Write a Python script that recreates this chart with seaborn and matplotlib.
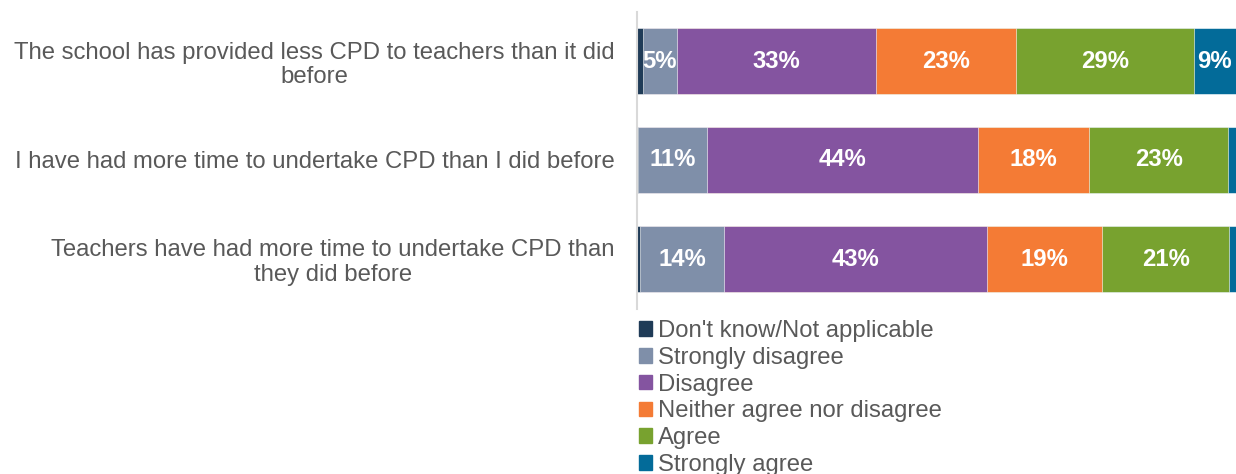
import matplotlib.pyplot as plt
import seaborn as sns
import numpy as np
import pandas as pd

statements = [
    "The school has provided less CPD to teachers than it did\nbefore",
    "I have had more time to undertake CPD than I did before",
    "Teachers have had more time to undertake CPD than\nthey did before",
]
responses = ["Don't know/Not applicable", "Strongly disagree", "Disagree",
             "Neither agree nor disagree", "Agree", "Strongly agree"]
dont_know = [1.0, 0.2, 0.5]
strongly_disagree = [5.5, 11.3, 13.7]
disagree = [32.5, 44.3, 43.0]
neither = [23.0, 18.1, 18.8]
agree = [29.0, 22.7, 20.8]
strongly_agree = [9.0, 3.4, 3.2]
shown = [[None, 5, 33, 23, 29, 9],
         [None, 11, 44, 18, 23, None],
         [None, 14, 43, 19, 21, None]]

colors = ["#1F3B57", "#7F8FA9", "#8454A0", "#F47B35", "#78A22F", "#036B99"]

sns.set_theme(style="white")
plt.rcParams['font.family'] = ['Liberation Sans', 'DejaVu Sans']
fs = 17.2
xmax = 97.9

values = np.array([dont_know, strongly_disagree, disagree, neither, agree, strongly_agree])
cums = np.cumsum(values, axis=0)

fig = plt.figure(figsize=(12.36, 4.74), dpi=100)
ax = fig.add_axes([637 / 1236, 1 - 308.5 / 474, 1 - 637 / 1236, 297 / 474])

# stack by overlaying cumulative totals, longest first
for i in range(len(responses) - 1, -1, -1):
    df = pd.DataFrame({'statement': statements, 'cum': cums[i]})
    sns.barplot(data=df, y='statement', x='cum', orient='h', color=colors[i],
                saturation=1, width=0.667, ax=ax, label=responses[i],
                edgecolor='white', linewidth=0.4)

for j in range(len(statements)):
    for i in range(len(responses)):
        if shown[j][i] is None:
            continue
        start = cums[i, j] - values[i, j]
        end = min(cums[i, j], xmax)
        ax.text((start + end) / 2, j, f"{shown[j][i]}%", ha='center', va='center',
                color='white', fontsize=fs, fontweight='bold')

ax.set_xlim(0, xmax)
ax.set_ylim(2.5, -0.5)
ax.set_xlabel('')
ax.set_ylabel('')
ax.set_xticks([])
ax.tick_params(axis='y', length=0, pad=16, labelsize=fs, labelcolor='#595959')
for lab in ax.get_yticklabels():
    lab.set_multialignment('center')
    lab.set_linespacing(1.15)
for s in ['top', 'right', 'bottom']:
    ax.spines[s].set_visible(False)
ax.spines['left'].set_color('#D9D9D9')
ax.spines['left'].set_linewidth(1.5)
if ax.get_legend() is not None:
    ax.get_legend().remove()

handles = [plt.Rectangle((0, 0), 1, 1, color=c) for c in colors]
fig.legend(handles, responses, loc='upper left', bbox_to_anchor=(639 / 1236, 1 - 320 / 474),
           frameon=False, fontsize=fs, labelcolor='#595959', handlelength=0.55,
           handleheight=0.55, handletextpad=0.25, labelspacing=0.2, borderpad=0,
           borderaxespad=0)

fig.savefig('out.png', dpi=100)
